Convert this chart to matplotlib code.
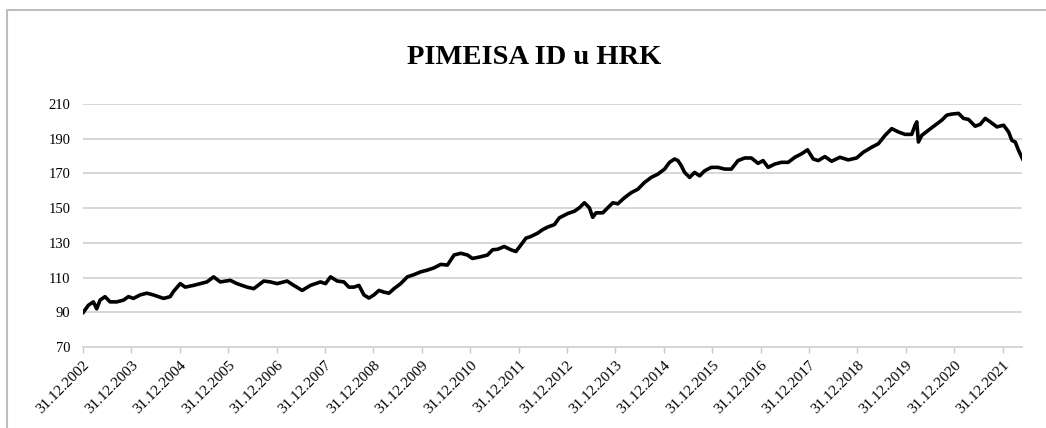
import matplotlib
matplotlib.use("Agg")
import matplotlib.pyplot as plt
from matplotlib.lines import Line2D

plt.rcParams['font.family'] = ['Liberation Serif', 'DejaVu Serif']

# decimal year (2003.0 = 31.12.2002) and index value
years = [2003.007, 2003.110, 2003.214, 2003.283, 2003.352, 2003.455, 2003.559, 2003.697,
         2003.835, 2003.939, 2004.042, 2004.180, 2004.318, 2004.456, 2004.560, 2004.663,
         2004.801, 2004.870, 2005.008, 2005.112, 2005.284, 2005.422, 2005.560, 2005.698,
         2005.836, 2006.043, 2006.182, 2006.389, 2006.527, 2006.734, 2006.872, 2007.010,
         2007.217, 2007.355, 2007.528, 2007.700, 2007.907, 2008.010, 2008.114, 2008.252,
         2008.390, 2008.493, 2008.597, 2008.701, 2008.804, 2008.908, 2009.011, 2009.115,
         2009.218, 2009.322, 2009.425, 2009.563, 2009.701, 2009.839, 2009.977, 2010.115,
         2010.253, 2010.391, 2010.529, 2010.667, 2010.805, 2010.943, 2011.047, 2011.219,
         2011.358, 2011.461, 2011.565, 2011.703, 2011.841, 2011.944, 2012.048, 2012.151,
         2012.255, 2012.393, 2012.496, 2012.600, 2012.738, 2012.841, 2013.014, 2013.152,
         2013.255, 2013.359, 2013.462, 2013.531, 2013.600, 2013.738, 2013.842, 2013.946,
         2014.049, 2014.187, 2014.325, 2014.463, 2014.601, 2014.739, 2014.877, 2015.015,
         2015.119, 2015.222, 2015.291, 2015.360, 2015.429, 2015.533, 2015.636, 2015.740,
         2015.843, 2015.981, 2016.119, 2016.257, 2016.395, 2016.533, 2016.671, 2016.809,
         2016.947, 2017.051, 2017.155, 2017.293, 2017.431, 2017.569, 2017.707, 2017.845,
         2017.969, 2018.087, 2018.190, 2018.328, 2018.466, 2018.638, 2018.811, 2018.983,
         2019.121, 2019.294, 2019.432, 2019.570, 2019.708, 2019.846, 2019.984, 2020.122,
         2020.191, 2020.226, 2020.260, 2020.329, 2020.467, 2020.605, 2020.743, 2020.847,
         2020.950, 2021.088, 2021.192, 2021.295, 2021.433, 2021.537, 2021.640, 2021.744,
         2021.882, 2022.020, 2022.123, 2022.192, 2022.261, 2022.330, 2022.413]
values = [90.0, 94.0, 96.0, 92.0, 97.0, 99.0, 96.0, 96.0,
          97.0, 99.0, 98.0, 100.0, 101.0, 100.0, 99.0, 98.0,
          99.0, 102.0, 106.5, 104.5, 105.5, 106.5, 107.5, 110.4,
          107.5, 108.4, 106.5, 104.5, 103.6, 108.0, 107.5, 106.5,
          108.0, 105.5, 102.6, 105.5, 107.5, 106.5, 110.4, 108.0,
          107.5, 104.5, 104.5, 105.5, 100.0, 98.2, 100.0, 102.6,
          101.6, 101.0, 103.6, 106.5, 110.4, 111.7, 113.3, 114.3,
          115.6, 117.6, 117.2, 123.0, 124.0, 123.0, 121.0, 122.0,
          123.0, 126.0, 126.3, 127.9, 126.0, 125.0, 128.8, 132.7,
          133.7, 135.6, 137.6, 139.1, 140.5, 144.4, 146.9, 148.2,
          150.2, 153.1, 150.2, 144.7, 147.3, 147.3, 150.2, 153.1,
          152.5, 156.0, 158.9, 160.9, 164.8, 167.7, 169.6, 172.5,
          176.4, 178.3, 177.4, 174.5, 170.6, 167.7, 170.6, 168.6,
          171.5, 173.5, 173.5, 172.5, 172.5, 177.4, 178.9, 178.9,
          175.8, 177.4, 173.5, 175.4, 176.4, 176.4, 179.3, 181.3,
          183.6, 178.3, 177.4, 179.7, 177.0, 179.3, 177.8, 178.9,
          182.2, 185.1, 187.1, 191.9, 195.8, 193.9, 192.5, 192.5,
          197.8, 199.7, 188.1, 191.9, 194.9, 197.8, 200.7, 203.6,
          204.2, 204.6, 201.7, 201.1, 197.2, 198.3, 201.7, 199.7,
          196.8, 197.8, 193.9, 189.0, 188.1, 183.2, 178.3]

tick_years = list(range(2003, 2023))
tick_labels = ['31.12.%d' % (y - 1) for y in tick_years]
y_ticks = [70, 90, 110, 130, 150, 170, 190, 210]

fig = plt.figure(figsize=(10.46, 4.28), dpi=100)
ax = fig.add_axes([83 / 1046, 1 - 347 / 428, (1022 - 83) / 1046, (347 - 104) / 428])

ax.plot(years, values, color='black', lw=2.6, solid_joinstyle='round')

ax.set_xlim(2003.0, 2022.40)
ax.set_ylim(70, 210)
ax.set_yticks(y_ticks)
ax.set_xticks(tick_years)
ax.set_xticklabels(tick_labels, rotation=45, ha='right', va='top',
                   rotation_mode='anchor', fontsize=11)
ax.tick_params(axis='y', length=0, pad=9, labelsize=10.5)
ax.tick_params(axis='x', length=4, color='#c8c8c8', width=1, pad=4)
ax.yaxis.grid(True, color='#d4d4d4', lw=1.3)
ax.set_axisbelow(True)
for side in ['top', 'right', 'left']:
    ax.spines[side].set_visible(False)
ax.spines['bottom'].set_color('#d4d4d4')
ax.spines['bottom'].set_linewidth(1.3)

fig.text(534 / 1046, 1 - 58 / 428, 'PIMEISA ID u HRK', ha='center', va='center',
         fontsize=20.5, fontweight='bold')

# outer frame (only top and left edges are visible in the reference)
fig.add_artist(Line2D([7 / 1046, 7 / 1046, 1.0], [0.0, 1 - 10 / 428, 1 - 10 / 428],
                      transform=fig.transFigure, color='#bdbdbd', lw=1.5))

fig.savefig('out.png', dpi=100)
